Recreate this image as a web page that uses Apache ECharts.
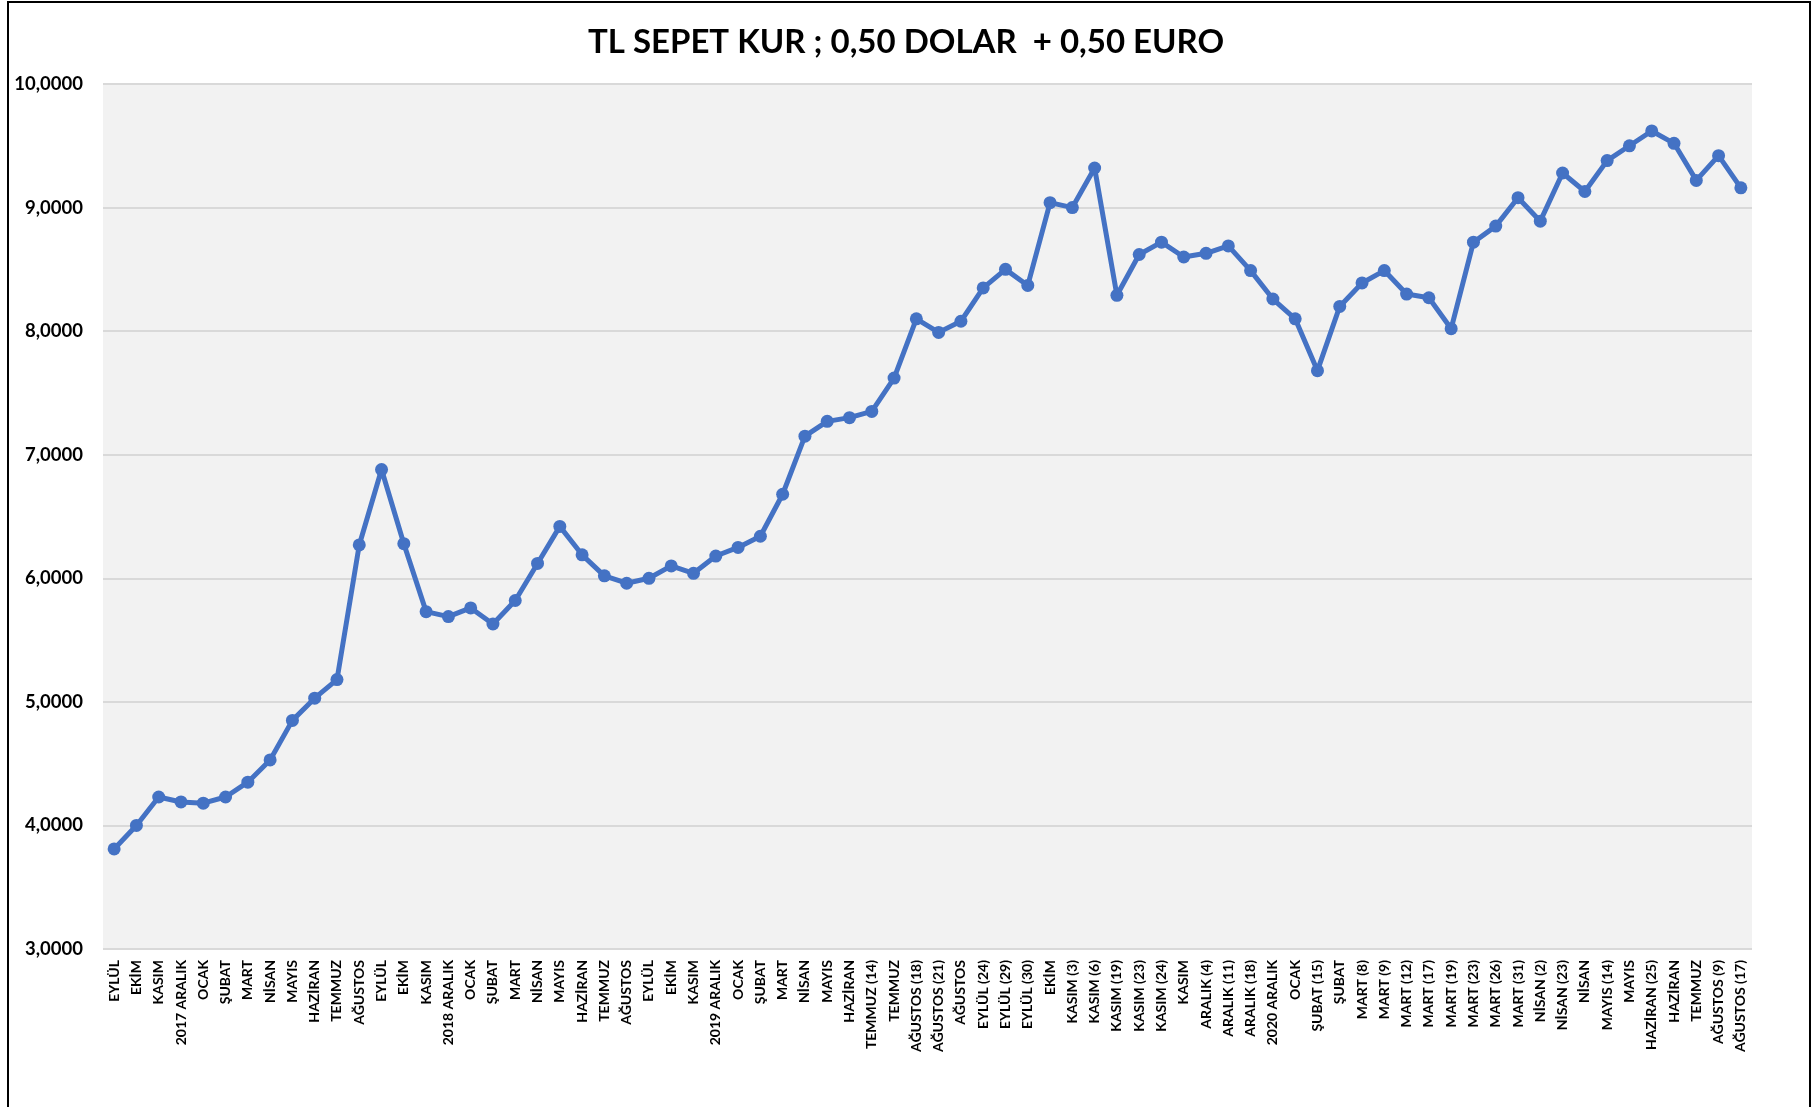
<!DOCTYPE html>
<html>
<head>
<meta charset="utf-8">
<title>TL Sepet Kur</title>
<script src="https://cdn.jsdelivr.net/npm/echarts@6/dist/echarts.min.js"></script>
<style>
  html, body { margin: 0; padding: 0; background: #ffffff; }
  #chart { width: 1812px; height: 1107px; }
</style>
</head>
<body>
<div id="chart"></div>
<script>
var categories = [
    'EYLÜL', 'EKİM', 'KASIM', '2017 ARALIK', 'OCAK', 'ŞUBAT', 'MART', 'NİSAN', 'MAYIS', 'HAZİRAN',
    'TEMMUZ', 'AĞUSTOS', 'EYLÜL', 'EKİM', 'KASIM', '2018 ARALIK', 'OCAK', 'ŞUBAT', 'MART', 'NİSAN',
    'MAYIS', 'HAZİRAN', 'TEMMUZ', 'AĞUSTOS', 'EYLÜL', 'EKİM', 'KASIM', '2019 ARALIK', 'OCAK', 'ŞUBAT',
    'MART', 'NİSAN', 'MAYIS', 'HAZİRAN', 'TEMMUZ (14)', 'TEMMUZ', 'AĞUSTOS (18)', 'AĞUSTOS (21)', 'AĞUSTOS', 'EYLÜL (24)',
    'EYLÜL (29)', 'EYLÜL (30)', 'EKİM', 'KASIM (3)', 'KASIM (6)', 'KASIM (19)', 'KASIM (23)', 'KASIM (24)', 'KASIM', 'ARALIK (4)',
    'ARALIK (11)', 'ARALIK (18)', '2020 ARALIK', 'OCAK', 'ŞUBAT (15)', 'ŞUBAT', 'MART (8)', 'MART (9)', 'MART (12)', 'MART (17)',
    'MART (19)', 'MART (23)', 'MART (26)', 'MART (31)', 'NİSAN (2)', 'NİSAN (23)', 'NİSAN', 'MAYIS (14)', 'MAYIS', 'HAZİRAN (25)',
    'HAZİRAN', 'TEMMUZ', 'AĞUSTOS (9)', 'AĞUSTOS (17)'
];

// sepet kur: 0,50 USD + 0,50 EUR
var sepetKur = [
    3.81, 4.00, 4.23, 4.19, 4.18, 4.23, 4.35, 4.53, 4.85, 5.03,
    5.18, 6.27, 6.88, 6.28, 5.73, 5.69, 5.76, 5.63, 5.82, 6.12,
    6.42, 6.19, 6.02, 5.96, 6.00, 6.10, 6.04, 6.18, 6.25, 6.34,
    6.68, 7.15, 7.27, 7.30, 7.35, 7.62, 8.10, 7.99, 8.08, 8.35,
    8.50, 8.37, 9.04, 9.00, 9.32, 8.29, 8.62, 8.72, 8.60, 8.63,
    8.69, 8.49, 8.26, 8.10, 7.68, 8.20, 8.39, 8.49, 8.30, 8.27,
    8.02, 8.72, 8.85, 9.08, 8.89, 9.28, 9.13, 9.38, 9.50, 9.62,
    9.52, 9.22, 9.42, 9.16
];

var yMin = 3;
var yMax = 10;
var yStep = 1;

var chart = echarts.init(document.getElementById('chart'));

var option = {
    backgroundColor: '#ffffff',
    animation: false,
    textStyle: {
        fontFamily: 'Lato, "Open Sans", sans-serif'
    },
    title: {
        text: 'TL SEPET KUR ; 0,50 DOLAR  + 0,50 EURO',
        left: 'center',
        top: 21,
        textStyle: {
            fontSize: 33,
            fontWeight: 'bold',
            color: '#000000'
        }
    },
    graphic: [{
        type: 'rect',
        shape: { x: 8, y: 2, width: 1802, height: 1200 },
        style: { fill: 'none', stroke: '#000000', lineWidth: 2 },
        silent: true
    }],
    grid: {
        left: 103,
        right: 60,
        top: 84,
        bottom: 158,
        show: true,
        backgroundColor: '#f2f2f2',
        borderWidth: 0
    },
    xAxis: {
        type: 'category',
        data: categories,
        boundaryGap: true,
        axisLine: { show: false },
        axisTick: { show: false },
        axisLabel: {
            interval: 0,
            rotate: 90,
            fontSize: 14,
            fontWeight: 'bold',
            color: '#000000',
            margin: 11
        }
    },
    yAxis: {
        type: 'value',
        min: yMin,
        max: yMax,
        interval: yStep,
        axisLine: { show: false },
        axisTick: { show: false },
        splitLine: {
            lineStyle: { color: '#d9d9d9', width: 2 }
        },
        axisLabel: {
            fontSize: 18.5,
            fontWeight: 'bold',
            color: '#000000',
            margin: 20,
            formatter: function (v) {
                return v.toFixed(4).replace('.', ',');
            }
        }
    },
    series: [{
        name: 'TL SEPET KUR',
        type: 'line',
        data: sepetKur,
        symbol: 'circle',
        symbolSize: 13,
        lineStyle: { color: '#4472c4', width: 5 },
        itemStyle: { color: '#4472c4' }
    }]
};

chart.setOption(option);
</script>
</body>
</html>
